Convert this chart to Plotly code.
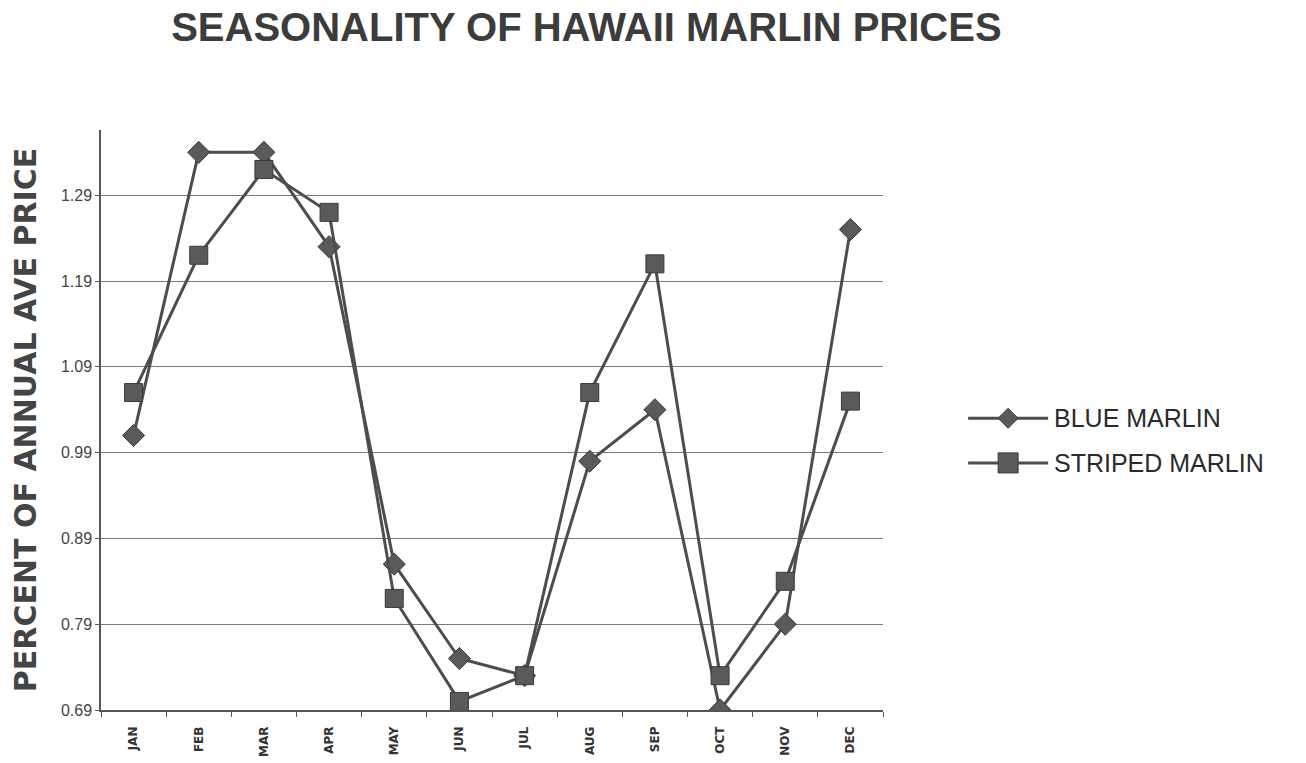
import plotly.graph_objects as go

months = ["JAN", "FEB", "MAR", "APR", "MAY", "JUN", "JUL", "AUG", "SEP", "OCT", "NOV", "DEC"]
blue_marlin = [1.01, 1.34, 1.34, 1.23, 0.86, 0.75, 0.73, 0.98, 1.04, 0.69, 0.79, 1.25]
striped_marlin = [1.06, 1.22, 1.32, 1.27, 0.82, 0.70, 0.73, 1.06, 1.21, 0.73, 0.84, 1.05]
y_ticks = [0.69, 0.79, 0.89, 0.99, 1.09, 1.19, 1.29]
series_names = ["BLUE MARLIN", "STRIPED MARLIN"]

line_color = "#4d4d4d"
mark_fill = "#5a5a5a"
mark_edge = "#3a3a3a"

fig = go.Figure()
fig.add_trace(go.Scatter(
    x=months, y=blue_marlin, name=series_names[0], mode="lines+markers",
    line=dict(color=line_color, width=3),
    marker=dict(symbol="diamond", size=17, color=mark_fill,
                line=dict(color=mark_edge, width=1)),
))
fig.add_trace(go.Scatter(
    x=months, y=striped_marlin, name=series_names[1], mode="lines+markers",
    line=dict(color=line_color, width=3),
    marker=dict(symbol="square", size=18, color=mark_fill,
                line=dict(color=mark_edge, width=1)),
))

# Hand-drawn key to the right of the plot: long line sample with a centred marker
key_x = 1.160            # paper x of the sample centre
key_text_x = 1.216       # paper x where the label starts
key_rows = [0.503, 0.426]
key_paths = ["M0,-10 L10,0 L0,10 L-10,0 Z", "M-10,-10 L10,-10 L10,10 L-10,10 Z"]
shapes = []
annotations = []
for name, ky, path in zip(series_names, key_rows, key_paths):
    shapes.append(dict(type="path", xref="paper", yref="paper",
                       xsizemode="pixel", ysizemode="pixel",
                       xanchor=key_x, yanchor=ky, path="M-40,0 L40,0",
                       line=dict(color=line_color, width=3)))
    shapes.append(dict(type="path", xref="paper", yref="paper",
                       xsizemode="pixel", ysizemode="pixel",
                       xanchor=key_x, yanchor=ky, path=path,
                       fillcolor=mark_fill, line=dict(color=mark_edge, width=1)))
    annotations.append(dict(text=name, xref="paper", yref="paper",
                            x=key_text_x, y=ky, xanchor="left", yanchor="middle",
                            showarrow=False,
                            font=dict(size=25, color="#2a2a2a",
                                      family="Liberation Sans, Arial, sans-serif")))

fig.update_layout(
    width=1306, height=763,
    margin=dict(l=101, r=423, t=130, b=53),
    paper_bgcolor="white", plot_bgcolor="white",
    font=dict(family="Liberation Sans, Arial, sans-serif", color="#333333"),
    title=dict(
        text="<b>SEASONALITY OF HAWAII MARLIN PRICES</b>",
        x=0.449, xanchor="center", y=0.965, yanchor="middle",
        font=dict(size=40, color="#3c3c3c"),
    ),
    showlegend=False,
    shapes=shapes,
    annotations=annotations,
)

fig.update_xaxes(
    type="category", categoryorder="array", categoryarray=months,
    range=[-0.5, 11.5], automargin=False,
    showline=True, linecolor="#555555", linewidth=1.5,
    ticks="outside", tickson="boundaries", ticklen=5, tickcolor="#555555",
    tickangle=-90, ticklabelstandoff=10,
    tickfont=dict(size=12, color="#333333", family="DejaVu Sans, sans-serif", weight="bold"),
    showgrid=False, zeroline=False,
)
fig.update_yaxes(
    range=[0.69, 1.366], automargin=False,
    tickvals=y_ticks, tickformat=".2f",
    showline=True, linecolor="#555555", linewidth=1.5,
    ticks="outside", ticklen=4, tickcolor="#555555",
    tickfont=dict(size=16, color="#444444"),
    showgrid=True, gridcolor="#7a7a7a", gridwidth=1,
    zeroline=False,
    title=dict(text="<b>PERCENT OF ANNUAL AVE PRICE</b>",
               font=dict(size=30, color="#444444", family="DejaVu Sans, sans-serif"),
               standoff=15),
)

fig.write_html("out.html")
